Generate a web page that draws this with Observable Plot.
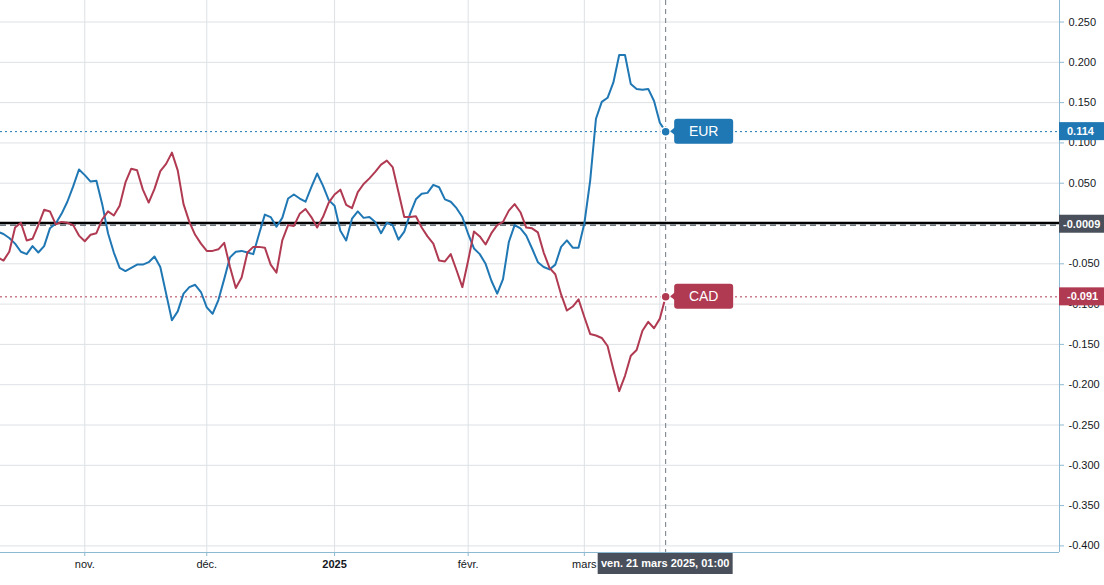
<!DOCTYPE html>
<html>
<head>
<meta charset="utf-8">
<script src="https://cdn.jsdelivr.net/npm/d3@7"></script>
<script src="https://cdn.jsdelivr.net/npm/@observablehq/plot@0.6"></script>
<style>
  html, body { margin: 0; padding: 0; background: #ffffff; }
  #chart svg { display: block; }
</style>
</head>
<body>
<div id="chart"></div>
<script>
// ---------- data ----------
const startDate = "2024-10-11";   // first daily (weekday) bar
const endDate = "2025-03-21";     // last bar
const eurValues = [
  -0.010, -0.013, -0.018, -0.025, -0.035, -0.038, -0.028, -0.036, -0.028, -0.006,
   0.000,  0.012,  0.027,  0.046,  0.067,  0.060,  0.052,  0.053,  0.024, -0.012,
  -0.036, -0.055, -0.059, -0.055, -0.051, -0.051, -0.048, -0.041, -0.054, -0.087,
  -0.120, -0.109, -0.087, -0.079, -0.076, -0.085, -0.104, -0.112, -0.095, -0.069,
  -0.042, -0.035, -0.034, -0.036, -0.038, -0.013,  0.011,  0.008, -0.004,  0.007,
   0.031,  0.036,  0.031,  0.027,  0.045,  0.062,  0.047,  0.029,  0.022, -0.009,
  -0.021,  0.006,  0.015,  0.007,  0.008,  0.002, -0.012,  0.001, -0.002, -0.020,
  -0.010,  0.012,  0.030,  0.037,  0.038,  0.048,  0.045,  0.030,  0.027,  0.019,
   0.008, -0.013, -0.031, -0.038, -0.050, -0.071, -0.087, -0.069, -0.023, -0.002,
  -0.006, -0.015, -0.031, -0.048, -0.054, -0.057, -0.051, -0.029, -0.021, -0.030,
  -0.030,  0.000,  0.053,  0.130,  0.151,  0.156,  0.175,  0.209,  0.209,  0.173,
   0.167,  0.166,  0.167,  0.152,  0.125,  0.114
];
const cadValues = [
  -0.042, -0.046, -0.035, -0.005,  0.001, -0.021, -0.019, -0.002,  0.017,  0.015,
  -0.001,  0.002,  0.001, -0.002, -0.015, -0.022, -0.014, -0.012,  0.005,  0.015,
   0.010,  0.022,  0.051,  0.068,  0.066,  0.042,  0.026,  0.043,  0.065,  0.074,
   0.088,  0.066,  0.024,  0.002, -0.014, -0.025, -0.034, -0.034, -0.032, -0.024,
  -0.054, -0.080, -0.067, -0.036, -0.029, -0.029, -0.030, -0.051, -0.061, -0.021,
  -0.002, -0.003,  0.012,  0.018,  0.008, -0.005,  0.008,  0.026,  0.036,  0.042,
   0.023,  0.019,  0.039,  0.049,  0.056,  0.064,  0.073,  0.078,  0.070,  0.039,
   0.008,  0.008,  0.009, -0.005, -0.016, -0.025, -0.046, -0.047, -0.038, -0.058,
  -0.079, -0.046, -0.010, -0.016, -0.026, -0.012, -0.002,  0.002,  0.016,  0.024,
   0.014, -0.005, -0.006, -0.011, -0.036, -0.055, -0.063, -0.088, -0.108, -0.103,
  -0.094, -0.116, -0.137, -0.139, -0.142, -0.152, -0.181, -0.208, -0.189, -0.164,
  -0.157, -0.133, -0.122, -0.130, -0.118, -0.091
];
const seriesNames = ["EUR", "CAD"];
const seriesColors = ["#1f77b4", "#b03a52"];
const monthTickDates = ["2024-11-01", "2024-12-02", "2025-01-01", "2025-02-03", "2025-03-03"];
const monthTickLabels = ["nov.", "déc.", "2025", "févr.", "mars"];
const boldTickLabels = ["2025"];
const extraGridDates = ["2025-03-20"];
const yTicks = [0.25, 0.2, 0.15, 0.1, 0.05, 0, -0.05, -0.1, -0.15, -0.2, -0.25, -0.3, -0.35, -0.4];
const yTicksHiddenLabel = [0];   // covered by the crosshair price box in the reference
const zeroLine = 0;
const crosshairValue = -0.0009;
const crosshairValueLabel = "-0.0009";
const crosshairDate = "2025-03-21";
const crosshairLabel = "ven. 21 mars 2025, 01:00";

// ---------- build table ----------
const fmt = d3.utcFormat("%Y-%m-%d");
const dates = d3.utcDays(new Date(startDate), d3.utcDay.offset(new Date(endDate), 1))
  .filter(d => d.getUTCDay() !== 0 && d.getUTCDay() !== 6);
const idxOf = s => dates.findIndex(d => fmt(d) === s);
const seriesValues = [eurValues, cadValues];
const rows = [];
seriesNames.forEach((name, s) => {
  dates.forEach((d, i) => rows.push({i, date: d, series: name, value: seriesValues[s][i]}));
});
const lastIdx = dates.length - 1;
const lastRows = seriesNames.map((name, s) => ({i: lastIdx, series: name, value: seriesValues[s][lastIdx]}));
const tickRows = monthTickDates.map((d, k) => ({i: idxOf(d), label: monthTickLabels[k]}));
const gridIdx = tickRows.map(t => t.i).concat(extraGridDates.map(idxOf));
const crossIdx = idxOf(crosshairDate);
const yLabelTicks = yTicks.filter(t => !yTicksHiddenLabel.includes(t));

// ---------- layout ----------
const W = 1104, H = 585;
const mTop = 0, mBottom = 33, mLeft = 0, mRight = 45;
const xDomain = [0.49, 182.8];
const yDomain = [-0.4082, 0.2767];
const FONT = "'Liberation Sans', Arial, sans-serif";
const GRID = "#dde1e5";
const AXIS = "#8dbad3";
const TEXT = "#131722";
const CROSS = "#6f7a86";

function overlay(index, scales, values, dims) {
  const X = scales.x, Y = scales.y;
  const g = d3.create("svg:g").attr("font-family", FONT).attr("text-anchor", "start");
  const axX = dims.width - dims.marginRight;
  const xe = X(lastIdx);
  // crosshair price box
  const yc = Y(crosshairValue);
  g.append("rect").attr("x", axX).attr("y", yc - 9).attr("width", dims.marginRight).attr("height", 18).attr("fill", "#4a505b");
  g.append("text").attr("x", axX + 4).attr("y", yc).attr("dy", "0.35em").attr("text-anchor", "start").attr("fill", "#fff")
    .attr("font-size", 11).attr("font-weight", "bold").text(crosshairValueLabel);
  seriesNames.forEach((name, s) => {
    const v = seriesValues[s][lastIdx], yy = Y(v), c = seriesColors[s];
    const bx = xe + 9, bw = 59, bh = 25;
    g.append("path").attr("d", `M${bx + 2},${yy - 5} L${bx - 4},${yy} L${bx + 2},${yy + 5} Z`).attr("fill", c);
    g.append("rect").attr("x", bx).attr("y", yy - bh / 2).attr("width", bw).attr("height", bh).attr("rx", 3).attr("fill", c);
    g.append("text").attr("x", bx + bw / 2).attr("y", yy).attr("dy", "0.36em").attr("text-anchor", "middle")
      .attr("fill", "#fff").attr("font-size", 14).text(name);
    g.append("rect").attr("x", axX).attr("y", yy - 9).attr("width", dims.marginRight).attr("height", 18).attr("fill", c);
    g.append("text").attr("x", axX + 8).attr("y", yy).attr("dy", "0.35em").attr("text-anchor", "start").attr("fill", "#fff")
      .attr("font-size", 11).attr("font-weight", "bold").text(v.toFixed(3));
  });
  // crosshair time box
  const xc = X(crossIdx), by = dims.height - dims.marginBottom;
  g.append("rect").attr("x", xc - 67.5).attr("y", by + 1).attr("width", 135).attr("height", 21).attr("fill", "#4a505b");
  g.append("text").attr("x", xc).attr("y", by + 11.5).attr("dy", "0.35em").attr("text-anchor", "middle")
    .attr("fill", "#fff").attr("font-size", 11).attr("font-weight", "bold").text(crosshairLabel);
  return g.node();
}

const chart = Plot.plot({
  width: W, height: H,
  marginTop: mTop, marginBottom: mBottom, marginLeft: mLeft, marginRight: mRight,
  style: {fontFamily: FONT, background: "#ffffff", color: TEXT},
  x: {type: "linear", domain: xDomain, axis: null},
  y: {type: "linear", domain: yDomain, axis: null},
  color: {domain: seriesNames, range: seriesColors},
  marks: [
    Plot.ruleY(yTicks, {stroke: GRID, strokeWidth: 1}),
    Plot.ruleX(gridIdx, {stroke: GRID, strokeWidth: 1}),
    Plot.ruleY([crosshairValue], {stroke: CROSS, strokeWidth: 1.3, strokeDasharray: "6,4", dy: 1}),
    Plot.ruleY([zeroLine], {stroke: "#000", strokeWidth: 2.6, dy: -0.5}),
    Plot.ruleY(lastRows, {y: "value", stroke: "series", strokeWidth: 1, strokeDasharray: "2,3"}),
    Plot.ruleX([crossIdx], {stroke: CROSS, strokeWidth: 1, strokeDasharray: "5,4"}),
    Plot.line(rows, {x: "i", y: "value", z: "series", stroke: "series", strokeWidth: 2, clip: true}),
    Plot.dot(lastRows, {x: "i", y: "value", fill: "series", r: 4.5, stroke: "#fff", strokeWidth: 1.5}),
    Plot.ruleX([xDomain[1]], {stroke: AXIS, strokeWidth: 1}),
    Plot.ruleY([yDomain[0]], {stroke: AXIS, strokeWidth: 1}),
    Plot.axisY(yTicks, {anchor: "right", tickSize: 4, stroke: AXIS, tickFormat: () => "", label: null}),
    Plot.axisY(yLabelTicks, {anchor: "right", tickSize: 0, tickPadding: 9, fill: TEXT,
      fontSize: 11, tickFormat: d => d.toFixed(3), label: null}),
    Plot.axisX(tickRows.map(t => t.i), {anchor: "bottom", tickSize: 4, stroke: AXIS, tickFormat: () => "", label: null}),
    Plot.text(tickRows.filter(t => !boldTickLabels.includes(t.label)), {x: "i", text: "label", frameAnchor: "bottom", dy: 15, fontSize: 11, fill: TEXT}),
    Plot.text(tickRows.filter(t => boldTickLabels.includes(t.label)), {x: "i", text: "label", frameAnchor: "bottom", dy: 15, fontSize: 11, fontWeight: "bold", fill: TEXT}),
    overlay
  ]
});
document.getElementById("chart").appendChild(chart);
</script>
</body>
</html>
